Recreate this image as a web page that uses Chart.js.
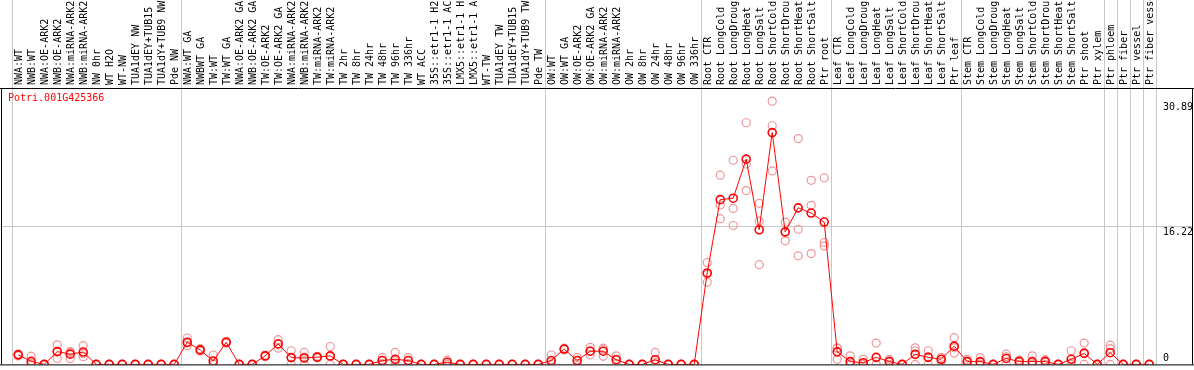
<!DOCTYPE html>
<html><head><meta charset="utf-8">
<script src="https://cdn.jsdelivr.net/npm/chart.js@4/dist/chart.umd.min.js"></script>
<style>html,body{margin:0;padding:0;background:#fff;overflow:hidden}#wrap{width:1194px;height:370px;position:relative}</style>
</head><body><div id="wrap"><canvas id="c" width="1194" height="370"></canvas></div>
<script>
const categories = [
 'NWA:WT','NWB:WT','NWA:OE-ARK2','NWB:OE-ARK2','NWA:miRNA-ARK2','NWB:miRNA-ARK2','NW 0hr','WT H2O','WT-NW','TUA1dEY NW','TUA1dEY+TUB15','TUA1dY+TUB9 NW','Pde NW',
 'NWA:WT GA','NWBWT GA','TW:WT','TW:WT GA','NWA:OE-ARK2 GA','NWB:OE-ARK2 GA','TW:OE-ARK2','TW:OE-ARK2 GA','NWA:miRNA-ARK2','NWB:miRNA-ARK2','TW:miRNA-ARK2','TW:miRNA-ARK2','TW 2hr','TW 8hr','TW 24hr','TW 48hr','TW 96hr','TW 336hr','WT ACC','35S::etr1-1 H2','35S::etr1-1 AC','LMX5::etr1-1 H','LMX5::etr1-1 A','WT-TW','TUA1dEY TW','TUA1dEY+TUB15','TUA1dY+TUB9 TW','Pde TW',
 'OW:WT','OW:WT GA','OW:OE-ARK2','OW:OE-ARK2 GA','OW:miRNA-ARK2','OW:miRNA-ARK2','OW 2hr','OW 8hr','OW 24hr','OW 48hr','OW 96hr','OW 336hr',
 'Root CTR','Root LongCold','Root LongDroug','Root LongHeat','Root LongSalt','Root ShortCold','Root ShortDrou','Root ShortHeat','Root ShortSalt','Ptr root',
 'Leaf CTR','Leaf LongCold','Leaf LongDroug','Leaf LongHeat','Leaf LongSalt','Leaf ShortCold','Leaf ShortDrou','Leaf ShortHeat','Leaf ShortSalt','Ptr leaf',
 'Stem CTR','Stem LongCold','Stem LongDroug','Stem LongHeat','Stem LongSalt','Stem ShortCold','Stem ShortDrou','Stem ShortHeat','Stem ShortSalt','Ptr shoot','Ptr xylem',
 'Ptr phloem','Ptr fiber','Ptr vessel','Ptr fiber vessel'
];
const meanValues = [
 1.12,0.35,0,1.5,1.2,1.45,0,0,0,0,0,0,0,
 2.6,1.7,0.4,2.6,0,0,1.0,2.4,0.8,0.75,0.85,1.0,0,0,0,0.45,0.6,0.45,0,0,0.25,0,0,0,0,0,0,0,
 0.45,1.8,0.45,1.55,1.55,0.55,0,0,0.55,0,0,0,
 10.73,19.33,19.5,24.08,15.8,27.2,15.55,18.37,17.76,16.7,
 1.47,0.33,0.2,0.83,0.33,0,1.18,0.83,0.6,2.14,
 0.33,0.33,0,0.7,0.33,0.33,0.33,0,0.6,1.29,0,
 1.37,0,0,0
];
const rep1 = [
 1.25,0.96,0,2.3,1.5,2.2,0,0,0,0,0,0,0,
 3.1,1.85,1.1,2.7,0,0,1.1,2.9,1.6,1.4,0.95,2.1,0,0,0,0.8,1.4,0.8,0,0,0.5,0,0,0,0,0,0,0,
 1.1,1.9,0.8,2.0,1.9,1.0,0,0,1.4,0,0,0,
 11.97,22.2,23.95,28.35,18.9,30.89,16.7,26.5,21.6,21.9,
 1.95,1.0,0.6,2.5,0.6,0,1.94,1.6,0.83,3.14,
 0.6,0.8,0,1.2,0.5,1.0,0.55,0,1.6,2.5,0,
 2.25,0,0,0
];
const rep2 = [
 1.12,0.1,0,1.5,1.4,1.25,0,0,0,0,0,0,0,
 2.5,1.7,0.1,2.6,0,0,1.0,2.4,0.8,0.85,0.85,0.9,0,0,0,0.45,0.4,0.45,0,0,0.25,0,0,0,0,0,0,0,
 0.25,1.8,0.45,1.55,1.8,0.6,0,0,0.25,0,0,0,
 10.57,18.7,18.3,23.5,16.8,28.0,15.5,15.86,18.67,14.3,
 1.87,0,0,0,0.4,0,1.6,0.9,0.6,1.95,
 0.4,0.2,0,0.9,0.5,0,0.45,0,0.2,1.37,0,
 1.86,0,0,0
];
const rep3 = [
 1.0,0,0,0.7,0.7,0.9,0,0,0,0,0,0,0,
 2.2,1.55,0,2.5,0,0,0.9,1.9,0,0,0.75,0,0,0,0,0.1,0,0.1,0,0,0,0,0,0,0,0,0,0,
 0,1.7,0.1,1.1,0.95,0.05,0,0,0,0,0,0,
 9.65,17.1,16.3,20.4,11.7,22.7,14.5,12.74,13.0,13.9,
 0.6,0,0,0,0,0,0,0,0.37,1.33,
 0,0,0,0,0,0,0,0,0,0,0,
 0,0,0,0
];
const groupStarts = [0, 13, 41, 53, 63, 73, 84, 85, 86, 87, 88];
const yTickValues = [0, 16.22, 30.89];
const yGridValue = 16.22;
const yMax = 32.43;
const geneName = 'Potri.001G425366';

const FONT = '10px "DejaVu Sans Mono", monospace';
const repColor = 'rgb(238,150,150)';

const decor = {
  id: 'decor',
  beforeDatasetsDraw(chart) {
    const {ctx, chartArea: a, scales: {x, y}} = chart;
    ctx.save();
    ctx.strokeStyle = '#c8c8c8';
    ctx.lineWidth = 1;
    const half = (x.getPixelForValue(1) - x.getPixelForValue(0)) / 2;
    groupStarts.forEach(b => {
      const px = Math.round(x.getPixelForValue(b) - half) + 0.5;
      ctx.beginPath(); ctx.moveTo(px, 0); ctx.lineTo(px, a.bottom); ctx.stroke();
    });
    const gy = Math.round(y.getPixelForValue(yGridValue)) + 0.5;
    ctx.beginPath(); ctx.moveTo(1, gy); ctx.lineTo(1193, gy); ctx.stroke();
    ctx.restore();
  },
  afterDraw(chart) {
    const {ctx, chartArea: a, scales: {y}} = chart;
    ctx.save();
    ctx.strokeStyle = '#000';
    ctx.lineWidth = 1;
    ctx.beginPath();
    ctx.moveTo(0, a.top + 0.5); ctx.lineTo(1194, a.top + 0.5);
    ctx.moveTo(0, a.bottom + 0.5); ctx.lineTo(1194, a.bottom + 0.5);
    ctx.moveTo(1.5, a.top); ctx.lineTo(1.5, a.bottom);
    ctx.moveTo(1192.5, a.top); ctx.lineTo(1192.5, a.bottom);
    ctx.stroke();
    ctx.font = FONT;
    ctx.fillStyle = '#000';
    ctx.textAlign = 'left';
    yTickValues.forEach(v => {
      const py = y.getPixelForValue(v);
      if (v === 0) { ctx.textBaseline = 'alphabetic'; ctx.fillText(String(v), 1163, py - 3); }
      else { ctx.textBaseline = 'top'; ctx.fillText(v.toFixed(2), 1163, py + 1); }
    });
    ctx.fillStyle = '#ff0000';
    ctx.textBaseline = 'top';
    ctx.fillText(geneName, 8, a.top + 5);
    ctx.restore();
  }
};

const repDs = (data) => ({
  data, showLine: false, borderColor: repColor, backgroundColor: 'rgba(0,0,0,0)',
  pointRadius: 4, pointBorderWidth: 1.2, pointHoverRadius: 4
});

new Chart(document.getElementById('c'), {
  type: 'line',
  data: {
    labels: categories,
    datasets: [
      { data: meanValues, borderColor: '#ff0000', borderWidth: 1, backgroundColor: 'rgba(0,0,0,0)',
        pointRadius: 4, pointBorderWidth: 1.6, pointBorderColor: '#ff0000', tension: 0 },
      repDs(rep1), repDs(rep2), repDs(rep3)
    ]
  },
  options: {
    responsive: false, animation: false, devicePixelRatio: 1,
    layout: { padding: { left: 11.7, right: 0, top: 0, bottom: 1 } },
    plugins: { legend: { display: false }, tooltip: { enabled: false } },
    scales: {
      x: {
        position: 'top', offset: true,
        grid: { display: false, drawTicks: false }, border: { display: false },
        ticks: { autoSkip: false, minRotation: 90, maxRotation: 90, padding: 3, labelOffset: 13, color: '#000',
                 font: { family: '"DejaVu Sans Mono", monospace', size: 10 } },
        afterFit(s) { s.height = 88; }
      },
      y: {
        position: 'right', min: 0, max: yMax,
        grid: { display: false }, border: { display: false },
        ticks: { display: false },
        afterFit(s) { s.width = 38.3; }
      }
    }
  },
  plugins: [decor]
});
</script></body></html>
